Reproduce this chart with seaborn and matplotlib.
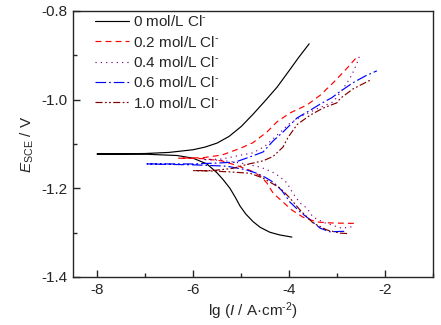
import matplotlib
matplotlib.use("Agg")
import matplotlib.pyplot as plt
import seaborn as sns
import pandas as pd
from matplotlib.ticker import MultipleLocator, FormatStrFormatter

# Polarization curves: each scan runs from the cathodic end, through E_corr,
# out along the anodic branch.
labels = ["0 mol/L Cl$^{\\text{-}}$", "0.2 mol/L Cl$^{\\text{-}}$",
          "0.4 mol/L Cl$^{\\text{-}}$", "0.6 mol/L Cl$^{\\text{-}}$",
          "1.0 mol/L Cl$^{\\text{-}}$"]

lgi_0 = [-3.94, -4.20, -4.40, -4.60, -4.75, -4.90, -5.02, -5.12, -5.23, -5.375,
         -5.50, -5.71, -6.00, -6.33, -7.00, -8.00,
         -7.00, -6.50, -6.00, -5.75, -5.50, -5.25, -5.00, -4.75, -4.50,
         -4.25, -4.00, -3.80, -3.58]
e_0 = [-1.310, -1.305, -1.299, -1.288, -1.275, -1.258, -1.240, -1.220, -1.200, -1.180,
       -1.165, -1.145, -1.132, -1.126, -1.123, -1.1225,
       -1.1215, -1.119, -1.113, -1.107, -1.098, -1.083, -1.061, -1.033, -1.003,
       -0.972, -0.935, -0.905, -0.874]

lgi_02 = [-2.65, -2.73, -3.15, -3.42, -3.71, -3.94, -4.125, -4.33, -4.46, -4.60,
          -4.80, -5.10, -5.40, -5.80, -6.30,
          -5.80, -5.40, -5.02, -4.75, -4.46, -4.25, -3.98, -3.625, -3.35,
          -3.08, -2.79, -2.58]
e_02 = [-1.279, -1.279, -1.278, -1.276, -1.265, -1.249, -1.231, -1.211, -1.188, -1.172,
        -1.160, -1.148, -1.138, -1.133, -1.132,
        -1.131, -1.125, -1.110, -1.097, -1.073, -1.050, -1.030, -1.012, -0.990,
        -0.962, -0.929, -0.903]

lgi_04 = [-2.70, -2.90, -3.25, -3.50, -3.625, -3.77, -3.92, -4.04, -4.20, -4.35,
          -4.60, -5.00, -5.40, -5.80,
          -5.40, -5.00, -4.75, -4.50, -4.25, -4.00, -3.70, -3.40, -3.08,
          -2.94, -2.79, -2.69, -2.58, -2.52]
e_04 = [-1.287, -1.290, -1.278, -1.265, -1.245, -1.233, -1.211, -1.188, -1.173, -1.163,
        -1.152, -1.143, -1.137, -1.135,
        -1.134, -1.125, -1.120, -1.105, -1.080, -1.055, -1.035, -1.020, -1.005,
        -0.985, -0.962, -0.944, -0.917, -0.898]

lgi_06 = [-2.85, -3.15, -3.35, -3.56, -3.77, -3.98, -4.15, -4.33, -4.50, -4.67,
          -4.90, -5.30, -6.00, -6.96,
          -6.00, -5.50, -5.125, -4.81, -4.54, -4.33, -4.125, -3.83, -3.56,
          -3.35, -3.10, -2.94, -2.67, -2.40, -2.17]
e_06 = [-1.297, -1.298, -1.290, -1.271, -1.253, -1.231, -1.205, -1.186, -1.175, -1.166,
        -1.158, -1.150, -1.147, -1.145,
        -1.145, -1.143, -1.141, -1.129, -1.118, -1.093, -1.073, -1.041, -1.024,
        -1.010, -0.995, -0.982, -0.962, -0.946, -0.935]

lgi_10 = [-2.79, -2.94, -3.21, -3.50, -3.77, -3.98, -4.19, -4.54, -4.81, -5.23,
          -5.60, -6.00,
          -5.60, -5.17, -4.875, -4.54, -4.33, -4.125, -4.02, -3.83, -3.56,
          -3.29, -3.00, -2.94, -2.67, -2.31]
e_10 = [-1.302, -1.301, -1.294, -1.278, -1.249, -1.222, -1.199, -1.177, -1.166, -1.163,
        -1.161, -1.160,
        -1.160, -1.155, -1.146, -1.138, -1.128, -1.107, -1.085, -1.056, -1.035,
        -1.019, -1.007, -0.998, -0.976, -0.956]

curves = [(lgi_0, e_0), (lgi_02, e_02), (lgi_04, e_04), (lgi_06, e_06), (lgi_10, e_10)]
colors = ["#000000", "#FF0000", "#800080", "#0000FF", "#800000"]
styles = ["-", (0, (5, 3.5)), (0, (1, 3.5)), (0, (9, 2.5, 1.5, 2.5)),
          (0, (6, 2, 1.5, 2, 1.5, 2))]

sns.set_style("ticks")
plt.rcParams["font.family"] = ["Liberation Sans", "DejaVu Sans"]
plt.rcParams["axes.unicode_minus"] = False
plt.rcParams["mathtext.fontset"] = "custom"
plt.rcParams["mathtext.rm"] = "Liberation Sans"
plt.rcParams["mathtext.it"] = "Liberation Sans:italic"

fig = plt.figure(figsize=(4.41, 3.25), dpi=100)
ax = fig.add_axes([0.1655, 0.1477, 0.8164, 0.8185])

for (x, y), lab, col, ls in zip(curves, labels, colors, styles):
    df = pd.DataFrame({"lgi": x, "E": y})
    sns.lineplot(data=df, x="lgi", y="E", sort=False, estimator=None, ax=ax,
                 color=col, linestyle=ls, linewidth=0.85, label=lab)

ax.set_xlim(-8.5, -1)
ax.set_ylim(-1.4, -0.8)
ax.xaxis.set_major_locator(MultipleLocator(2))
ax.xaxis.set_minor_locator(MultipleLocator(1))
ax.yaxis.set_major_locator(MultipleLocator(0.2))
ax.yaxis.set_minor_locator(MultipleLocator(0.1))
ax.xaxis.set_major_formatter(FormatStrFormatter("%g"))
ax.yaxis.set_major_formatter(FormatStrFormatter("%.1f"))
ax.tick_params(which="major", direction="in", length=5, width=1, labelsize=11,
               top=False, right=False, pad=4)
ax.tick_params(which="minor", direction="in", length=3, width=1,
               top=False, right=False)
for sp in ax.spines.values():
    sp.set_visible(True)
    sp.set_linewidth(1.0)

ax.set_xlabel("lg ($I$ / A·cm$^{\\text{-2}}$)", fontsize=11, labelpad=3)
ax.set_ylabel("$E$$_{\\mathrm{SCE}}$ / V", fontsize=11, labelpad=4)

leg = ax.legend(loc="upper left", frameon=False, fontsize=11, handlelength=2.2,
                handletextpad=0.3, labelspacing=0.35, borderaxespad=0.0,
                borderpad=0.0, bbox_to_anchor=(0.061, 0.9875))

fig.savefig("out.png", dpi=100)
